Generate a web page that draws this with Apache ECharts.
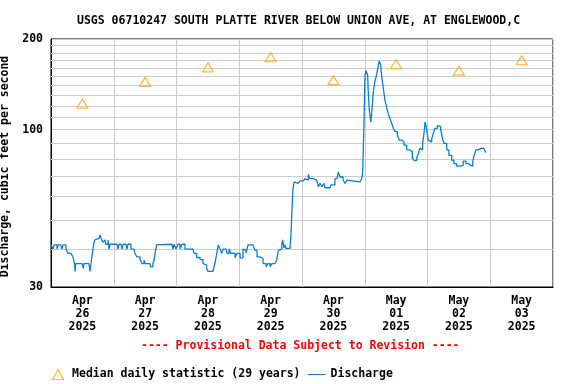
<!DOCTYPE html>
<html>
<head>
<meta charset="utf-8">
<script src="https://cdn.jsdelivr.net/npm/echarts@6/dist/echarts.min.js"></script>
<style>
html,body{margin:0;padding:0;background:#fff;}
#chart{width:576px;height:384px;}
</style>
</head>
<body>
<div id="chart"></div>
<script>
// ---- data ----
const titleText = 'USGS 06710247 SOUTH PLATTE RIVER BELOW UNION AVE, AT ENGLEWOOD,C';
const dayLabels = ['Apr\n26\n2025','Apr\n27\n2025','Apr\n28\n2025','Apr\n29\n2025','Apr\n30\n2025','May\n01\n2025','May\n02\n2025','May\n03\n2025'];
const medianValues = [122, 144, 161, 174, 146, 165, 157, 170];
const yTickValues = [30, 100, 200];
const gridValues = [40,50,60,70,80,90,110,120,130,140,150,160,170,180,190];
// hours since Apr 26 2025 00:00
const hours = [0,0.75,1.15,2.3,2.7,3.8,4.2,4.6,5.35,5.75,6.5,7.65,8.4,9.0,9.2,9.4,9.95,11.85,12.35,12.6,14.5,14.9,15.3,15.95,16.45,16.8,17.2,18.35,18.75,19.4,19.9,20.65,21.0,21.8,22.2,22.55,23.35,24.1,25.25,25.6,26.0,26.8,27.15,27.55,28.7,29.05,29.45,30.2,30.6,31.75,32.1,32.8,34.05,34.8,35.6,35.95,37.85,38.05,38.6,39.0,39.4,39.8,40.4,40.9,46.3,46.65,47.05,47.8,48.55,49.35,50.1,50.85,51.25,52.4,54.3,54.7,55.7,57.0,58.15,58.9,59.55,60.05,61.95,62.35,62.7,63.4,64.0,64.25,64.65,65.4,65.8,66.95,67.3,68.1,68.85,69.6,70.4,71.15,71.9,72.3,73.05,73.45,74.2,74.6,75.35,77.25,78.0,78.8,79.95,81.1,82.25,83.0,83.8,84.5,85.65,86.3,86.95,87.6,88.25,88.6,89.1,89.5,89.9,91.4,91.7,92.05,92.45,92.95,93.7,94.5,95.25,96.5,97.15,97.9,98.4,99.05,100.3,101.6,102.25,102.9,103.65,104.4,104.8,105.55,106.7,107.1,107.85,108.6,109.4,109.9,110.55,111.7,112.45,113.2,113.6,118.2,118.85,119.2,119.7,120.1,120.5,121.1,121.35,121.75,122.3,122.65,123.25,123.9,124.55,125.2,125.55,126.1,126.5,127.1,127.75,128.4,129.0,129.65,130.3,130.9,131.55,132.45,133.2,134.15,135.0,136.05,137.3,138.2,138.95,139.85,140.5,141.1,141.8,142.15,142.65,143.05,143.4,143.9,144.3,144.95,145.6,146.2,146.85,147.75,148.5,149.05,149.55,150.3,151.35,152.2,153.25,154.1,155.15,156.4,157.65,158.7,159.6,160.5,161.3,161.8,162.55,163.45,164.7,165.6,166.25];
const flows = [41.4,40.1,41.4,40.1,41.4,41.4,40.1,41.4,41.4,40.1,38.8,38.8,37.8,35.9,33.8,35.9,35.9,35.9,34.6,35.9,35.9,33.8,35.9,39.5,42.3,43.0,43.5,43.5,44.7,43.0,42.3,43.0,41.6,43.0,40.1,41.6,41.6,41.6,41.6,40.1,41.6,41.6,40.1,41.6,41.6,40.1,41.6,41.6,40.1,40.1,38.8,37.8,37.0,35.9,36.8,35.9,35.9,35.0,35.0,35.9,36.8,38.8,41.4,41.6,41.6,40.1,41.6,40.1,41.6,40.1,41.6,41.6,40.1,40.1,40.1,38.8,37.6,37.0,35.9,35.5,34.6,33.8,33.8,35.0,35.9,38.8,41.4,41.4,40.1,38.8,40.1,40.1,38.8,40.1,38.8,38.8,37.5,38.8,38.8,37.5,37.5,40.1,39.7,38.8,41.4,41.4,39.7,37.8,37.3,35.9,35.0,35.9,35.0,35.9,35.9,36.8,39.7,40.1,41.4,43.0,40.5,41.4,40.3,40.3,43.5,50.9,62.2,67.0,66.3,66.3,67.6,68.0,68.7,68.0,71.0,68.7,68.0,67.0,64.6,66.3,64.6,66.3,64.1,64.1,64.1,65.5,65.5,68.7,69.5,72.3,69.6,68.0,66.3,68.0,67.0,67.0,68.7,71.9,105,151.8,156.8,151.8,133,116,106,113,133,145,152,164,169,164,150,137,125,118,113,109,105,101,98.6,96,92.3,91,88.8,85.6,84.5,80.4,78.9,80.4,83.3,86.8,85.6,90,97,106,103.5,97,92.3,91,93,97,101,103,102.5,100,94.9,90,85.6,82.1,79.1,77.1,75.6,76.1,78.6,77.1,76.1,75.6,78.2,82.1,85.6,86.8,86.4,86.8,84];

const FONT = 'DejaVu Sans Mono';
const txt = {fontFamily: FONT, fontWeight: 'bold', fontSize: 11.5, color: '#000'};
const dischargeData = hours.map((h, i) => [h, flows[i]]);

const chart = echarts.init(document.getElementById('chart'), null, {renderer: 'canvas'});
chart.setOption({
  animation: false,
  backgroundColor: '#fff',
  title: [
    {text: titleText, left: 72, top: 10, textStyle: Object.assign({}, txt)},
    {text: '---- Provisional Data Subject to Revision ----', left: 136, top: 335,
     textStyle: Object.assign({}, txt, {color: '#ff0000'})}
  ],
  legend: {
    left: 45, top: 362, itemGap: 7, itemWidth: 18, itemHeight: 10,
    textStyle: Object.assign({}, txt),
    data: [
      {name: 'Median daily statistic (29 years)', icon: 'path://M5,0 L10,9 L0,9 Z',
       itemStyle: {color: 'none', borderColor: '#FFA500', borderWidth: 1.2}},
      {name: 'Discharge', icon: 'path://M0,0 L0,0 M0,4.5 L18,4.5 L18,5.6 L0,5.6 Z M18,10 L18,10',
       itemStyle: {color: '#0a7fd0', borderWidth: 0}}
    ]
  },
  grid: {left: 51, right: 23, top: 39, bottom: 97, show: true, borderColor: '#000', borderWidth: 1,
         containLabel: false, outerBoundsMode: 'none'},
  xAxis: [
    {type: 'value', min: 0, max: 192, interval: 24,
     axisLine: {show: true, lineStyle: {color: '#000'}}, axisTick: {show: false}, axisLabel: {show: false},
     splitLine: {show: true, lineStyle: {color: '#cccccc', width: 1}}},
    {type: 'category', data: dayLabels, position: 'bottom', boundaryGap: true,
     axisLine: {show: false}, axisTick: {show: false}, splitLine: {show: false},
     axisLabel: Object.assign({}, txt, {lineHeight: 13, margin: 8, interval: 0})}
  ],
  yAxis: {
    type: 'log', logBase: 10, min: 30, max: 200,
    name: 'Discharge, cubic feet per second', nameLocation: 'middle', nameGap: 30,
    nameTextStyle: Object.assign({}, txt, {padding: [0, 7, 0, 0]}),
    axisLine: {show: true, lineStyle: {color: '#000'}}, axisTick: {show: false},
    axisLabel: Object.assign({}, txt, {margin: 8}),
    splitLine: {show: true, lineStyle: {color: '#cccccc', width: 1}}
  },
  series: [
    {name: 'Discharge', type: 'line', xAxisIndex: 0, data: dischargeData, step: 'end',
     symbol: 'none', showSymbol: false, z: 3,
     lineStyle: {color: '#0a7fd0', width: 1.3}, itemStyle: {color: '#0a7fd0'},
     markLine: {silent: true, z: 1, symbol: ['none', 'none'], label: {show: false},
       lineStyle: {color: '#cccccc', type: 'solid', width: 1},
       emphasis: {disabled: true},
       data: gridValues.map(v => ({yAxis: v}))}},
    {name: 'Median daily statistic (29 years)', type: 'scatter', xAxisIndex: 1, z: 4,
     data: medianValues, symbol: 'triangle', symbolSize: [11, 9],
     itemStyle: {color: 'none', borderColor: '#FFA500', borderWidth: 1.2}}
  ]
});
</script>
</body>
</html>
